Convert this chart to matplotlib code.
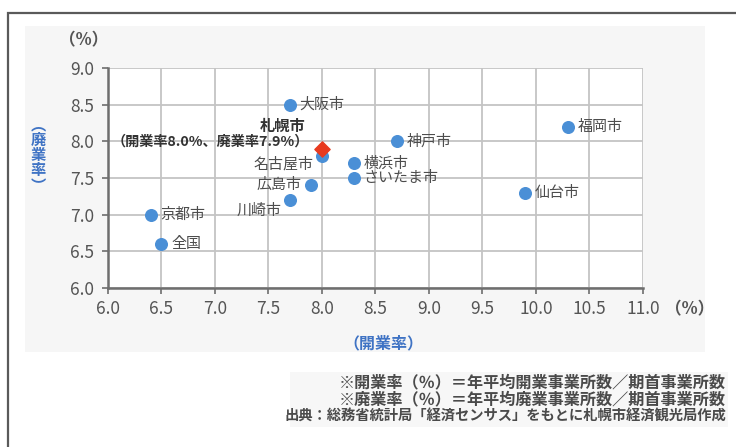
import matplotlib
matplotlib.use("Agg")
import matplotlib.pyplot as plt
from matplotlib.patches import Rectangle

plt.rcParams['font.family'] = ['Noto Sans CJK JP', 'DejaVu Sans']

# data (開業率, 廃業率)
cities = ['大阪市', '名古屋市', '神戸市', '横浜市', 'さいたま市', '広島市',
          '川崎市', '京都市', '全国', '福岡市', '仙台市']
open_rate = [7.7, 8.0, 8.7, 8.3, 8.3, 7.9, 7.7, 6.4, 6.5, 10.3, 9.9]
close_rate = [8.5, 7.8, 8.0, 7.7, 7.5, 7.4, 7.2, 7.0, 6.6, 8.2, 7.3]
sapporo_open = 8.0
sapporo_close = 7.9
xticks = [6.0, 6.5, 7.0, 7.5, 8.0, 8.5, 9.0, 9.5, 10.0, 10.5, 11.0]
yticks = [6.0, 6.5, 7.0, 7.5, 8.0, 8.5, 9.0]
notes = ['※開業率（％）＝年平均開業事業所数／期首事業所数',
         '※廃業率（％）＝年平均廃業事業所数／期首事業所数',
         '出典：総務省統計局「経済センサス」をもとに札幌市経済観光局作成']

# label placement: offset in points, horizontal alignment
label_pos = {
    '大阪市': ((7, 0), 'left'),
    '名古屋市': ((-6, -6), 'right'),
    '神戸市': ((7, 0), 'left'),
    '横浜市': ((7, 0), 'left'),
    'さいたま市': ((7, 0), 'left'),
    '広島市': ((-7, 0), 'right'),
    '川崎市': ((-6, -8), 'right'),
    '京都市': ((7, 0), 'left'),
    '全国': ((7, 0), 'left'),
    '福岡市': ((7, 0), 'left'),
    '仙台市': ((7, 0), 'left'),
}

W, H = 736, 447
fig = plt.figure(figsize=(W / 100, H / 100), dpi=100)
fig.patch.set_facecolor('white')

# outer frame and light panels (behind the axes)
fig.patches.append(Rectangle((8 / W, -0.1), 1.2, 1 - 13 / H + 0.1, transform=fig.transFigure,
                             fill=False, ec='#5a5a5a', lw=1.6, zorder=-2))
fig.patches.append(Rectangle((25 / W, 1 - 352 / H), 680 / W, 326 / H, transform=fig.transFigure,
                             fc='#f6f6f6', ec='none', zorder=-2))
fig.patches.append(Rectangle((290 / W, 1 - 427 / H), 438 / W, 55 / H, transform=fig.transFigure,
                             fc='#f7f7f7', ec='none', zorder=-2))

ax = fig.add_axes([108 / W, 1 - 288 / H, 535 / W, 220 / H])
ax.set_zorder(1)
ax.set_facecolor('white')
ax.set_xlim(6.0, 11.0)
ax.set_ylim(6.0, 9.0)
ax.set_xticks(xticks)
ax.set_yticks(yticks)
ax.set_xticklabels([f'{v:.1f}' for v in xticks])
ax.set_yticklabels([f'{v:.1f}' for v in yticks])
ax.grid(True, color='#c4c4c4', lw=1.3)
ax.set_axisbelow(True)
for s in ['top', 'right']:
    ax.spines[s].set_visible(False)
for s in ['left', 'bottom']:
    ax.spines[s].set_color('#6e6e6e')
    ax.spines[s].set_linewidth(1.8)
ax.tick_params(colors='#6e6e6e', labelcolor='#555555', labelsize=12.5, length=4, width=1.2)
ax.tick_params(axis='x', pad=5)
ax.tick_params(axis='y', pad=6)

ax.scatter(open_rate, close_rate, s=70, color='#4a8fd6', zorder=3, clip_on=False)
ax.scatter([sapporo_open], [sapporo_close], s=60, marker='D', color='#e83a1f', zorder=4)

for name, x, y in zip(cities, open_rate, close_rate):
    off, ha = label_pos[name]
    ax.annotate(name, (x, y), xytext=off, textcoords='offset points',
                ha=ha, va='center', fontsize=10.8, color='#4d4d4d')

ax.annotate('札幌市', (sapporo_open, sapporo_close), xytext=(-28, 16),
            textcoords='offset points', ha='center', va='center',
            fontsize=11, fontweight='bold', color='#333333')
ax.annotate(f'（開業率{sapporo_open:.1f}%、廃業率{sapporo_close:.1f}%）', (sapporo_open, sapporo_close),
            xytext=(-9, 5), textcoords='offset points', ha='right', va='center',
            fontsize=10.2, fontweight='bold', color='#333333')

# axis titles
fig.text(84 / W, 1 - 40 / H, '（%）', ha='center', va='center', fontsize=12,
         fontweight='bold', color='#555555')
fig.text(690 / W, 1 - 309 / H, '（%）', ha='center', va='center', fontsize=12,
         fontweight='bold', color='#555555')
fig.text(383 / W, 1 - 343 / H, '（開業率）', ha='center', va='center', fontsize=11.5,
         fontweight='bold', color='#3f73c4')
fig.text(38 / W, 1 - 155 / H, '︵\n廃\n業\n率\n︶', ha='center', va='center', fontsize=11,
         fontweight='bold', color='#3f73c4', linespacing=0.95)

# notes
for i, line in enumerate(notes):
    fig.text(726 / W, 1 - (382 + i * 17) / H, line, ha='right', va='center',
             fontsize=10.3 if i == 2 else 11.6, fontweight='bold', color='#4a4a4a')

fig.savefig('out.png', dpi=100)
